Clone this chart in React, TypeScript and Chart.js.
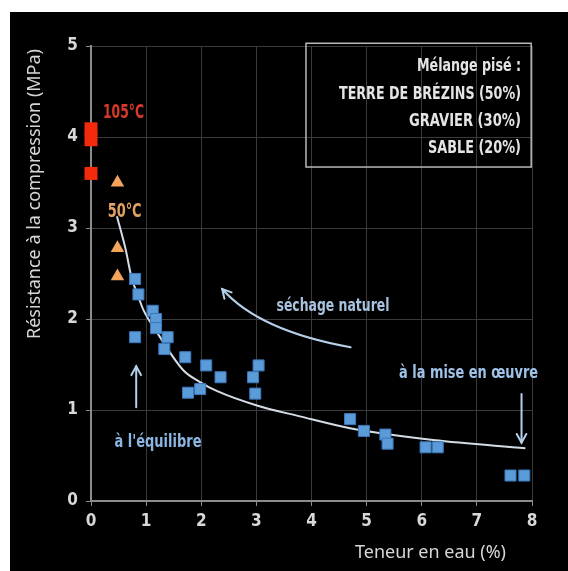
import React, { useEffect, useRef } from "react";
import { Chart, registerables } from "chart.js";

Chart.register(...registerables);

// ---- data ----
const blueX = [0.8, 0.86, 1.12, 1.18, 1.18, 0.8, 1.39, 1.33, 1.71, 2.09, 2.35, 1.76, 1.98, 3.04, 2.94, 2.98, 4.7, 4.95, 5.34, 5.38, 6.07, 6.29, 7.61, 7.86];
const blueY = [2.44, 2.27, 2.09, 2.0, 1.9, 1.8, 1.8, 1.67, 1.58, 1.49, 1.36, 1.19, 1.23, 1.49, 1.36, 1.18, 0.9, 0.77, 0.73, 0.63, 0.59, 0.59, 0.28, 0.28];

const orangeX = [0.48, 0.48, 0.48];
const orangeY = [3.5, 2.78, 2.47];

const redX = [0, 0, 0];
const redY = [4.09, 3.97, 3.6];

const curveX = [0.47, 0.63, 0.73, 0.88, 0.95, 1.2, 1.67, 1.97, 2.28, 3.01, 3.79, 4.7, 6.21, 7.88];
const curveY = [3.13, 2.76, 2.47, 2.21, 2.1, 1.85, 1.44, 1.31, 1.21, 1.05, 0.93, 0.8, 0.67, 0.58];

const xTicks = [0, 1, 2, 3, 4, 5, 6, 7, 8];
const yTicks = [0, 1, 2, 3, 4, 5];

const xTitle = "Teneur en eau (%)";
const yTitle = "Résistance à la compression (MPa)";
const legendLines = ["Mélange pisé :", "TERRE DE BRÉZINS (50%)", "GRAVIER (30%)", "SABLE (20%)"];

const COND = '"Liberation Sans Narrow", "DejaVu Sans Condensed", "DejaVu Sans", sans-serif';
const REG = '"Noto Sans", "Open Sans", "DejaVu Sans", sans-serif';

function zip(xs: number[], ys: number[]) {
  return xs.map((x, i) => ({ x, y: ys[i] }));
}

type Lbl = { t: string; x: number; y: number; c: string; s: number; w: number; a: CanvasTextAlign };

const annotations: Lbl[] = [
  { t: "105°C", x: 0.59, y: 4.21, c: "#d8392b", s: 19, w: 41, a: "center" },
  { t: "50°C", x: 0.61, y: 3.12, c: "#e2a263", s: 19, w: 34, a: "center" },
  { t: "séchage naturel", x: 4.39, y: 2.09, c: "#a9c3df", s: 18, w: 113, a: "center" },
  { t: "à la mise en œuvre", x: 6.85, y: 1.35, c: "#9ec2e8", s: 18, w: 139, a: "center" },
  { t: "à l'équilibre", x: 1.215, y: 0.59, c: "#8cb6e2", s: 18, w: 87, a: "center" },
];

const legendY = [4.726, 4.422, 4.117, 3.825];
const legendW = [104, 182, 112, 93];

export default function App() {
  const ref = useRef<HTMLCanvasElement | null>(null);

  useEffect(() => {
    if (!ref.current) return;

    const decor = {
      id: "decor",
      beforeDraw(chart: any) {
        const ctx = chart.ctx as CanvasRenderingContext2D;
        ctx.save();
        ctx.fillStyle = "#ffffff";
        ctx.fillRect(0, 0, chart.width, chart.height);
        ctx.fillStyle = "#000000";
        ctx.fillRect(10, 12, chart.width - 10, chart.height - 12);
        ctx.restore();
      },
      afterDraw(chart: any) {
        const ctx = chart.ctx as CanvasRenderingContext2D;
        const xs = chart.scales.x;
        const ys = chart.scales.y;
        const px = (v: number) => xs.getPixelForValue(v);
        const py = (v: number) => ys.getPixelForValue(v);
        ctx.save();

        // axis titles
        ctx.fillStyle = "#d6d6d6";
        ctx.font = `18px ${REG}`;
        ctx.textAlign = "center";
        ctx.textBaseline = "middle";
        ctx.save();
        ctx.translate(35, 194);
        ctx.rotate(-Math.PI / 2);
        ctx.fillText(yTitle, 0, 0, 302);
        ctx.restore();
        ctx.textBaseline = "alphabetic";
        ctx.fillText(xTitle, 430.5, 558, 151);

        // annotation texts
        for (const a of annotations) {
          ctx.fillStyle = a.c;
          ctx.font = `bold ${a.s}px ${COND}`;
          ctx.textAlign = a.a;
          ctx.fillText(a.t, px(a.x), py(a.y), a.w);
        }

        // legend box
        ctx.strokeStyle = "#b8b8b8";
        ctx.lineWidth = 1.5;
        const bx0 = px(3.9), bx1 = px(7.985), by0 = py(5.03), by1 = py(3.67);
        ctx.strokeRect(bx0, by0, bx1 - bx0, by1 - by0);
        ctx.fillStyle = "#e4e4e4";
        ctx.font = `bold 18px ${COND}`;
        ctx.textAlign = "right";
        legendLines.forEach((t, i) => {
          ctx.fillText(t, px(7.8), py(legendY[i]), legendW[i]);
        });

        // arrows
        const arrowColor = "#b6d0ea";
        ctx.strokeStyle = arrowColor;
        ctx.fillStyle = arrowColor;
        ctx.lineWidth = 2;
        ctx.lineCap = "round";
        const head = (x: number, y: number, ang: number) => {
          const L = 10, W = 0.5;
          ctx.beginPath();
          ctx.moveTo(x - L * Math.cos(ang - W), y - L * Math.sin(ang - W));
          ctx.lineTo(x, y);
          ctx.lineTo(x - L * Math.cos(ang + W), y - L * Math.sin(ang + W));
          ctx.stroke();
        };
        // up arrow (à l'équilibre)
        {
          const x = px(0.82), y0 = py(1.03), y1 = py(1.48);
          ctx.beginPath();
          ctx.moveTo(x, y0);
          ctx.lineTo(x, y1);
          ctx.stroke();
          head(x, y1, -Math.PI / 2);
        }
        // down arrow (mise en oeuvre)
        {
          const x = px(7.81), y0 = py(1.175), y1 = py(0.64);
          ctx.beginPath();
          ctx.moveTo(x, y0);
          ctx.lineTo(x, y1);
          ctx.stroke();
          head(x, y1, Math.PI / 2);
        }
        // curved arrow (séchage naturel)
        {
          const sx = px(4.71), sy = py(1.69);
          const cx = px(3.05), cy = py(1.87);
          const ex = px(2.38), ey = py(2.33);
          ctx.beginPath();
          ctx.moveTo(sx, sy);
          ctx.quadraticCurveTo(cx, cy, ex, ey);
          ctx.stroke();
          head(ex, ey, Math.atan2(ey - cy, ex - cx));
        }
        ctx.restore();
      },
    };

    const chart = new Chart(ref.current, {
      type: "scatter",
      data: {
        datasets: [
          {
            label: "courbe",
            data: zip(curveX, curveY),
            showLine: true,
            borderColor: "#d4dce6",
            borderWidth: 2,
            pointRadius: 0,
            cubicInterpolationMode: "monotone",
            order: 10,
          } as any,
          {
            label: "équilibre",
            data: zip(blueX, blueY),
            pointStyle: "rect",
            pointRadius: 7.8,
            backgroundColor: "#5b9bd8",
            borderColor: "#3a78bd",
            borderWidth: 1,
            clip: false,
            order: 3,
          },
          {
            label: "50°C",
            data: zip(orangeX, orangeY),
            pointStyle: "triangle",
            pointRadius: 7.8,
            backgroundColor: "#f2a35c",
            borderColor: "#f2a35c",
            borderWidth: 0,
            clip: false,
            order: 2,
          },
          {
            label: "105°C",
            data: zip(redX, redY),
            pointStyle: "rect",
            pointRadius: 9.2,
            backgroundColor: "#f42a0c",
            borderColor: "#f42a0c",
            borderWidth: 0,
            clip: false,
            order: 1,
          },
        ],
      },
      options: {
        animation: false,
        responsive: false,
        devicePixelRatio: 1,
        layout: { padding: { left: 0, top: 46, right: 36, bottom: 0 } },
        plugins: { legend: { display: false }, tooltip: { enabled: false } },
        scales: {
          x: {
            type: "linear",
            min: 0,
            max: 8,
            afterFit: (s: any) => { s.height = 70; },
            afterBuildTicks: (s: any) => { s.ticks = xTicks.map((v) => ({ value: v })); },
            grid: { color: "#3a3a3a", lineWidth: 1, tickLength: 5, tickColor: "#8c8c8c", drawOnChartArea: true },
            border: { color: "#8c8c8c", width: 2 },
            ticks: {
              color: "#d8d8d8",
              font: { family: COND, size: 17, weight: "bold" },
              padding: 5,
              maxRotation: 0,
            },
          },
          y: {
            type: "linear",
            min: 0,
            max: 5,
            afterFit: (s: any) => { s.width = 91; },
            afterBuildTicks: (s: any) => { s.ticks = yTicks.map((v) => ({ value: v })); },
            grid: { color: "#3a3a3a", lineWidth: 1, tickLength: 5, tickColor: "#8c8c8c" },
            border: { color: "#8c8c8c", width: 2 },
            ticks: {
              color: "#d8d8d8",
              font: { family: COND, size: 17, weight: "bold" },
              padding: 8,
            },
          },
        },
      },
      plugins: [decor],
    } as any);

    return () => chart.destroy();
  }, []);

  return (
    <canvas
      ref={ref}
      width={568}
      height={571}
      style={{ position: "absolute", left: 0, top: 0, width: 568, height: 571 }}
    />
  );
}
